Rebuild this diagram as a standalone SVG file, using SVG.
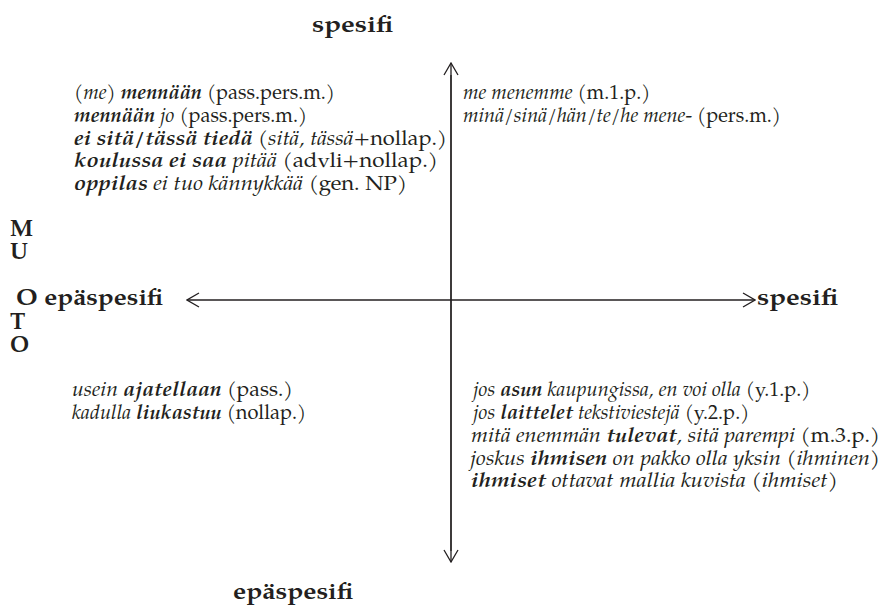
<svg xmlns="http://www.w3.org/2000/svg" width="893" height="611" viewBox="0 0 893 611">
<style>
.t{font-family:"P052","TeX Gyre Pagella","URW Palladio L","Palatino Linotype","Book Antiqua","Noto Serif","Liberation Serif",serif;font-size:20px;fill:#231f20;}
.h{font-family:"P052","TeX Gyre Pagella","URW Palladio L","Palatino Linotype","Book Antiqua","Noto Serif","Liberation Serif",serif;font-size:23px;font-weight:bold;fill:#231f20;}
.i{font-style:italic;}
.b{font-style:italic;font-weight:bold;}
.ax{stroke:#231f20;stroke-width:1.3;fill:none;}
</style>
<defs>
<marker id="ah" viewBox="0 0 14 16" refX="13" refY="8" markerWidth="14" markerHeight="16" markerUnits="userSpaceOnUse" orient="auto-start-reverse">
<path d="M1,1 L13,8 L1,15" fill="none" stroke="#231f20" stroke-width="1.3"/>
</marker>
</defs>
<g id="connectors">
<line class="ax" x1="451" y1="551" x2="451" y2="63" marker-end="url(#ah)"/>
<line class="ax" x1="451" y1="75" x2="451" y2="562" marker-end="url(#ah)"/>
<line class="ax" x1="187" y1="300" x2="755" y2="300" marker-start="url(#ah)" marker-end="url(#ah)"/>
</g>
<g id="axis-labels">
<text class="h" x="312" y="32" textLength="81" lengthAdjust="spacingAndGlyphs">spesifi</text>
<text class="h" x="233" y="599" textLength="120" lengthAdjust="spacingAndGlyphs">epäspesifi</text>
<text class="h" x="16" y="305" textLength="147" lengthAdjust="spacingAndGlyphs">O epäspesifi</text>
<text class="h" x="757" y="305" textLength="81" lengthAdjust="spacingAndGlyphs">spesifi</text>
<text class="h" x="10" y="236">M</text>
<text class="h" x="10" y="259">U</text>
<text class="h" x="10" y="329">T</text>
<text class="h" x="10" y="352">O</text>
</g>
<g id="quadrant-top-left">
<text class="t" x="74" y="99" textLength="261" lengthAdjust="spacingAndGlyphs"><tspan class="i">(me) </tspan><tspan class="b">mennään</tspan> (pass.pers.m.)</text>
<text class="t" x="74" y="122" textLength="233" lengthAdjust="spacingAndGlyphs"><tspan class="b">mennään</tspan> <tspan class="i">jo</tspan> (pass.pers.m.)</text>
<text class="t" x="74" y="145" textLength="373" lengthAdjust="spacingAndGlyphs"><tspan class="b">ei sitä/tässä tiedä</tspan> <tspan class="i">(sitä, tässä</tspan>+nollap.<tspan class="i">)</tspan></text>
<text class="t" x="74" y="167" textLength="364" lengthAdjust="spacingAndGlyphs"><tspan class="b">koulussa ei saa</tspan> <tspan class="i">pitää</tspan> (advli+nollap.)</text>
<text class="t" x="74" y="190" textLength="333" lengthAdjust="spacingAndGlyphs"><tspan class="b">oppilas</tspan> <tspan class="i">ei tuo kännykkää</tspan> (gen. NP)</text>
</g>
<g id="quadrant-top-right">
<text class="t" x="463" y="99"><tspan class="i">me menemme (</tspan>m.1.p.)</text>
<text class="t" x="463" y="122"><tspan class="i">minä/sinä/hän/te/he mene</tspan>- (pers.m.)</text>
</g>
<g id="quadrant-bottom-left">
<text class="t" x="72" y="396" textLength="221" lengthAdjust="spacingAndGlyphs"><tspan class="i">usein</tspan> <tspan class="b">ajatellaan</tspan> (pass.)</text>
<text class="t" x="72" y="419"><tspan class="i">kadulla</tspan> <tspan class="b">liukastuu</tspan> (nollap.)</text>
</g>
<g id="quadrant-bottom-right">
<text class="t" x="473" y="396"><tspan class="i">jos</tspan> <tspan class="b">asun</tspan> <tspan class="i">kaupungissa, en voi olla</tspan> (y.1.p.)</text>
<text class="t" x="473" y="419"><tspan class="i">jos</tspan> <tspan class="b">laittelet</tspan> <tspan class="i">tekstiviestejä</tspan> (y.2.p.)</text>
<text class="t" x="471" y="442" textLength="409" lengthAdjust="spacingAndGlyphs"><tspan class="i">mitä enemmän</tspan> <tspan class="b">tulevat</tspan><tspan class="i">, sitä parempi</tspan> (m.3.p.)</text>
<text class="t" x="470" y="465" textLength="410" lengthAdjust="spacingAndGlyphs"><tspan class="i">joskus</tspan> <tspan class="b">ihmisen</tspan> <tspan class="i">on pakko olla yksin</tspan> (<tspan class="i">ihminen</tspan>)</text>
<text class="t" x="471" y="487" textLength="367" lengthAdjust="spacingAndGlyphs"><tspan class="b">ihmiset</tspan> <tspan class="i">ottavat mallia kuvista</tspan> (<tspan class="i">ihmiset</tspan>)</text>
</g>
</svg>
